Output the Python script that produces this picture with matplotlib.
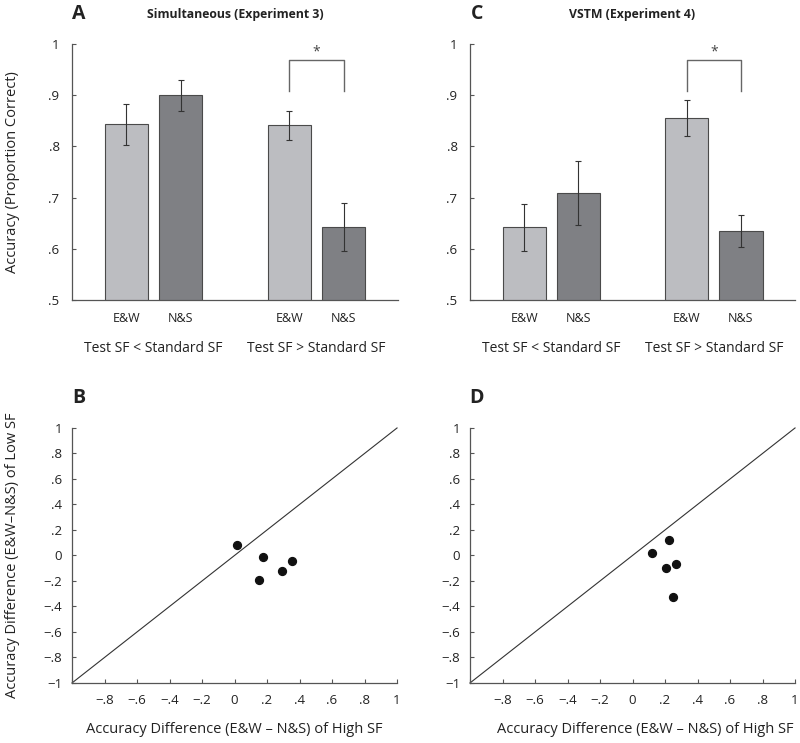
import matplotlib
matplotlib.use("Agg")
import matplotlib.pyplot as plt

plt.rcParams["font.family"] = ["Open Sans", "DejaVu Sans"]

# bar panels (A and C)
groups = ["Test SF < Standard SF", "Test SF > Standard SF"]
conds = ["E&W", "N&S"]
bar_pos = [1, 2, 4, 5]
acc_sim = [0.843, 0.900, 0.841, 0.643]
err_sim = [0.040, 0.030, 0.028, 0.047]
acc_vstm = [0.642, 0.709, 0.855, 0.635]
err_vstm = [0.046, 0.062, 0.035, 0.032]
yticks_bar = [0.5, 0.6, 0.7, 0.8, 0.9, 1.0]
ylabels_bar = [".5", ".6", ".7", ".8", ".9", "1"]
sig_top = 0.968
sig_leg = 0.908

# scatter panels (B and D)
sim_high = [0.015, 0.173, 0.354, 0.292, 0.149]
sim_low = [0.080, -0.012, -0.040, -0.124, -0.192]
vstm_high = [0.122, 0.227, 0.204, 0.268, 0.247]
vstm_low = [0.017, 0.122, -0.098, -0.064, -0.328]
diag = [-1, 1]
ticks_sc = [-1, -0.8, -0.6, -0.4, -0.2, 0, 0.2, 0.4, 0.6, 0.8, 1]
ylabels_sc = ["\u22121", "\u2212.8", "\u2212.6", "\u2212.4", "\u2212.2", "0",
              ".2", ".4", ".6", ".8", "1"]
xlabels_sc = [""] + ylabels_sc[1:]

light = "#bcbdc1"
dark = "#7f8084"
edge = "#4a4a4a"
axc = "#555555"
txt = "#222222"

fig = plt.figure(figsize=(8, 7.43), dpi=100)


def style(ax):
    for s in ["top", "right"]:
        ax.spines[s].set_visible(False)
    for s in ["left", "bottom"]:
        ax.spines[s].set_color(axc)
        ax.spines[s].set_linewidth(0.9)


def bar_panel(rect, vals, errs, letter, title):
    ax = fig.add_axes(rect)
    style(ax)
    ax.bar(bar_pos, vals, width=0.8, color=[light, dark, light, dark],
           edgecolor=edge, linewidth=0.8, zorder=2)
    ax.errorbar(bar_pos, vals, yerr=errs, fmt="none", ecolor="#333333",
                elinewidth=0.8, capsize=2.5, capthick=0.8, zorder=3)
    ax.set_xlim(0, 6)
    ax.set_ylim(0.5, 1.0)
    ax.set_yticks(yticks_bar)
    ax.set_yticklabels(ylabels_bar)
    ax.set_xticks([])
    ax.tick_params(axis="y", direction="in", length=3, pad=9, labelsize=9.5,
                   color=axc, labelcolor=txt)
    tr = ax.get_xaxis_transform()
    for i, p in enumerate(bar_pos):
        ax.text(p, -0.074, conds[i % 2], transform=tr, ha="center",
                va="center", fontsize=9, color=txt)
    for g, name in enumerate(groups):
        ax.text((bar_pos[2 * g] + bar_pos[2 * g + 1]) / 2, -0.188, name,
                transform=tr, ha="center", va="center", fontsize=10,
                color=txt)
    # significance bracket over second group
    ax.plot([bar_pos[2], bar_pos[2], bar_pos[3], bar_pos[3]],
            [sig_leg, sig_top, sig_top, sig_leg], color="#666666", lw=1,
            clip_on=False)
    ax.text((bar_pos[2] + bar_pos[3]) / 2, sig_top + 0.002, "*",
            ha="center", va="bottom", fontsize=10, color="#444444")
    ax.text(0.021, 1.117, letter, transform=ax.transAxes, ha="center",
            va="center", fontsize=14, fontweight="bold", color=txt)
    ax.text(0.5, 1.117, title, transform=ax.transAxes, ha="center",
            va="center", fontsize=8.8, fontweight="bold", color=txt)
    return ax


def scatter_panel(rect, xs, ys, letter, xlab_x):
    ax = fig.add_axes(rect)
    style(ax)
    ax.plot(diag, diag, color="#333333", lw=0.8, zorder=1, clip_on=False)
    ax.scatter(xs, ys, s=32, color="#111111", zorder=3)
    ax.set_xlim(-1, 1)
    ax.set_ylim(-1, 1)
    ax.set_xticks(ticks_sc)
    ax.set_xticklabels(xlabels_sc)
    ax.set_yticks(ticks_sc)
    ax.set_yticklabels(ylabels_sc)
    ax.tick_params(direction="in", length=3, labelsize=9.5, color=axc,
                   labelcolor=txt)
    ax.tick_params(axis="y", pad=7)
    ax.tick_params(axis="x", pad=8)
    ax.text(xlab_x, -0.184, "Accuracy Difference (E&W \u2013 N&S) of High SF",
            transform=ax.transAxes, ha="center", va="center",
            fontsize=10.5, color=txt)
    ax.text(0.021, 1.118, letter, transform=ax.transAxes, ha="center",
            va="center", fontsize=14, fontweight="bold", color=txt)
    return ax


bar_panel([0.090, 0.5962, 0.4075, 0.3446], acc_sim, err_sim, "A",
          "Simultaneous (Experiment 3)")
bar_panel([0.5875, 0.5962, 0.4063, 0.3446], acc_vstm, err_vstm, "C",
          "VSTM (Experiment 4)")
scatter_panel([0.090, 0.0808, 0.4063, 0.3432], sim_high, sim_low, "B", 0.5)
scatter_panel([0.5875, 0.0808, 0.4063, 0.3432], vstm_high, vstm_low, "D",
              0.54)

fig.text(0.016, 0.7685, "Accuracy (Proportion Correct)", rotation=90,
         ha="center", va="center", fontsize=10.5, color=txt)
fig.text(0.016, 0.253, "Accuracy Difference (E&W\u2013N&S) of Low SF",
         rotation=90, ha="center", va="center", fontsize=10.5, color=txt)

fig.savefig("out.png", dpi=100)
